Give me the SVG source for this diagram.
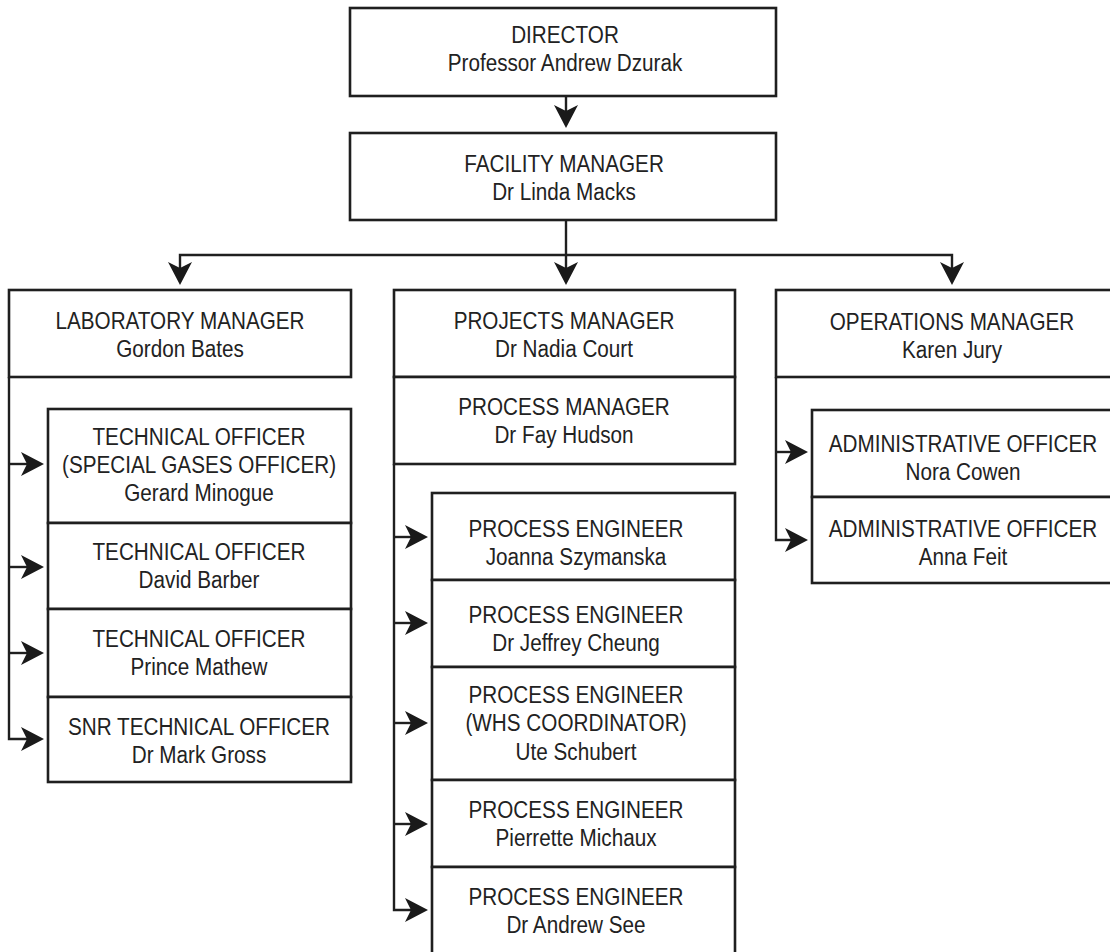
<svg xmlns="http://www.w3.org/2000/svg" width="1110" height="952" viewBox="0 0 1110 952">
<style>
.b{fill:#fff;stroke:#1f1f1f;stroke-width:2.6}
.c{fill:none;stroke:#1f1f1f;stroke-width:2.4;marker-end:url(#ah)}
.t{font-family:"Liberation Sans",Arial,sans-serif;font-size:20.7px;fill:#222;text-anchor:middle}
</style>
<defs>
<marker id="ah" markerUnits="userSpaceOnUse" viewBox="-26 -14 28 28" markerWidth="28" markerHeight="28" refX="-4" refY="0" orient="auto">
<path d="M0,0 L-23,-12 L-17,0 L-23,12 Z" fill="#1a1a1a"/>
</marker>
</defs>
<rect width="1110" height="952" fill="#fff"/>
<g id="connectors">
<path class="c" d="M566,96 V124"/>
<path class="c" d="M566,220 V281"/>
<path class="c" d="M566,255 H180 V281"/>
<path class="c" d="M566,255 H952 V281"/>
<path class="c" d="M9,377 V739 H40"/>
<path class="c" d="M9,464 H40"/>
<path class="c" d="M9,567 H40"/>
<path class="c" d="M9,653 H40"/>
<path class="c" d="M394,464 V910 H424"/>
<path class="c" d="M394,537 H424"/>
<path class="c" d="M394,623 H424"/>
<path class="c" d="M394,723 H424"/>
<path class="c" d="M394,824 H424"/>
<path class="c" d="M776,377 V540 H804"/>
<path class="c" d="M776,452 H804"/>
</g>
<g id="director"><rect class="b" x="350" y="8" width="426" height="88"/>
<text class="t" transform="matrix(1 0 0 1.13 565 43)"><tspan x="0" y="0">DIRECTOR</tspan><tspan x="0" y="24.8">Professor Andrew Dzurak</tspan></text></g>
<g id="facility"><rect class="b" x="350" y="133" width="426" height="87"/>
<text class="t" transform="matrix(1 0 0 1.13 564 172)"><tspan x="0" y="0">FACILITY MANAGER</tspan><tspan x="0" y="24.8">Dr Linda Macks</tspan></text></g>
<g id="lab-manager"><rect class="b" x="9" y="290" width="342" height="87"/>
<text class="t" transform="matrix(1 0 0 1.13 180 329)"><tspan x="0" y="0">LABORATORY MANAGER</tspan><tspan x="0" y="24.8">Gordon Bates</tspan></text></g>
<g id="projects-manager"><rect class="b" x="394" y="290" width="341" height="87"/>
<text class="t" transform="matrix(1 0 0 1.13 564 329)"><tspan x="0" y="0">PROJECTS MANAGER</tspan><tspan x="0" y="24.8">Dr Nadia Court</tspan></text></g>
<g id="process-manager"><rect class="b" x="394" y="377" width="341" height="87"/>
<text class="t" transform="matrix(1 0 0 1.13 564 415)"><tspan x="0" y="0">PROCESS MANAGER</tspan><tspan x="0" y="24.8">Dr Fay Hudson</tspan></text></g>
<g id="operations-manager"><rect class="b" x="776" y="290" width="360" height="87"/>
<text class="t" transform="matrix(1 0 0 1.13 952 330)"><tspan x="0" y="0">OPERATIONS MANAGER</tspan><tspan x="0" y="24.8">Karen Jury</tspan></text></g>
<g id="tech1"><rect class="b" x="48" y="409" width="303" height="114"/>
<text class="t" transform="matrix(1 0 0 1.13 199 445)"><tspan x="0" y="0">TECHNICAL OFFICER</tspan><tspan x="0" y="24.8">(SPECIAL GASES OFFICER)</tspan><tspan x="0" y="49.6">Gerard Minogue</tspan></text></g>
<g id="tech2"><rect class="b" x="48" y="523" width="303" height="86"/>
<text class="t" transform="matrix(1 0 0 1.13 199 560)"><tspan x="0" y="0">TECHNICAL OFFICER</tspan><tspan x="0" y="24.8">David Barber</tspan></text></g>
<g id="tech3"><rect class="b" x="48" y="609" width="303" height="88"/>
<text class="t" transform="matrix(1 0 0 1.13 199 647)"><tspan x="0" y="0">TECHNICAL OFFICER</tspan><tspan x="0" y="24.8">Prince Mathew</tspan></text></g>
<g id="snr-tech"><rect class="b" x="48" y="697" width="303" height="85"/>
<text class="t" transform="matrix(1 0 0 1.13 199 735)"><tspan x="0" y="0">SNR TECHNICAL OFFICER</tspan><tspan x="0" y="24.8">Dr Mark Gross</tspan></text></g>
<g id="pe1"><rect class="b" x="432" y="493" width="303" height="87"/>
<text class="t" transform="matrix(1 0 0 1.13 576 537)"><tspan x="0" y="0">PROCESS ENGINEER</tspan><tspan x="0" y="24.8">Joanna Szymanska</tspan></text></g>
<g id="pe2"><rect class="b" x="432" y="580" width="303" height="87"/>
<text class="t" transform="matrix(1 0 0 1.13 576 623)"><tspan x="0" y="0">PROCESS ENGINEER</tspan><tspan x="0" y="24.8">Dr Jeffrey Cheung</tspan></text></g>
<g id="pe3"><rect class="b" x="432" y="667" width="303" height="113"/>
<text class="t" transform="matrix(1 0 0 1.13 576 703)"><tspan x="0" y="0">PROCESS ENGINEER</tspan><tspan x="0" y="25.2">(WHS COORDINATOR)</tspan><tspan x="0" y="50.4">Ute Schubert</tspan></text></g>
<g id="pe4"><rect class="b" x="432" y="780" width="303" height="87"/>
<text class="t" transform="matrix(1 0 0 1.13 576 818)"><tspan x="0" y="0">PROCESS ENGINEER</tspan><tspan x="0" y="25.2">Pierrette Michaux</tspan></text></g>
<g id="pe5"><rect class="b" x="432" y="867" width="303" height="95"/>
<text class="t" transform="matrix(1 0 0 1.13 576 905)"><tspan x="0" y="0">PROCESS ENGINEER</tspan><tspan x="0" y="24.8">Dr Andrew See</tspan></text></g>
<g id="admin1"><rect class="b" x="812" y="410" width="320" height="87"/>
<text class="t" transform="matrix(1 0 0 1.13 963 452)"><tspan x="0" y="0">ADMINISTRATIVE OFFICER</tspan><tspan x="0" y="24.8">Nora Cowen</tspan></text></g>
<g id="admin2"><rect class="b" x="812" y="497" width="320" height="86"/>
<text class="t" transform="matrix(1 0 0 1.13 963 537)"><tspan x="0" y="0">ADMINISTRATIVE OFFICER</tspan><tspan x="0" y="24.8">Anna Feit</tspan></text></g>
</svg>
